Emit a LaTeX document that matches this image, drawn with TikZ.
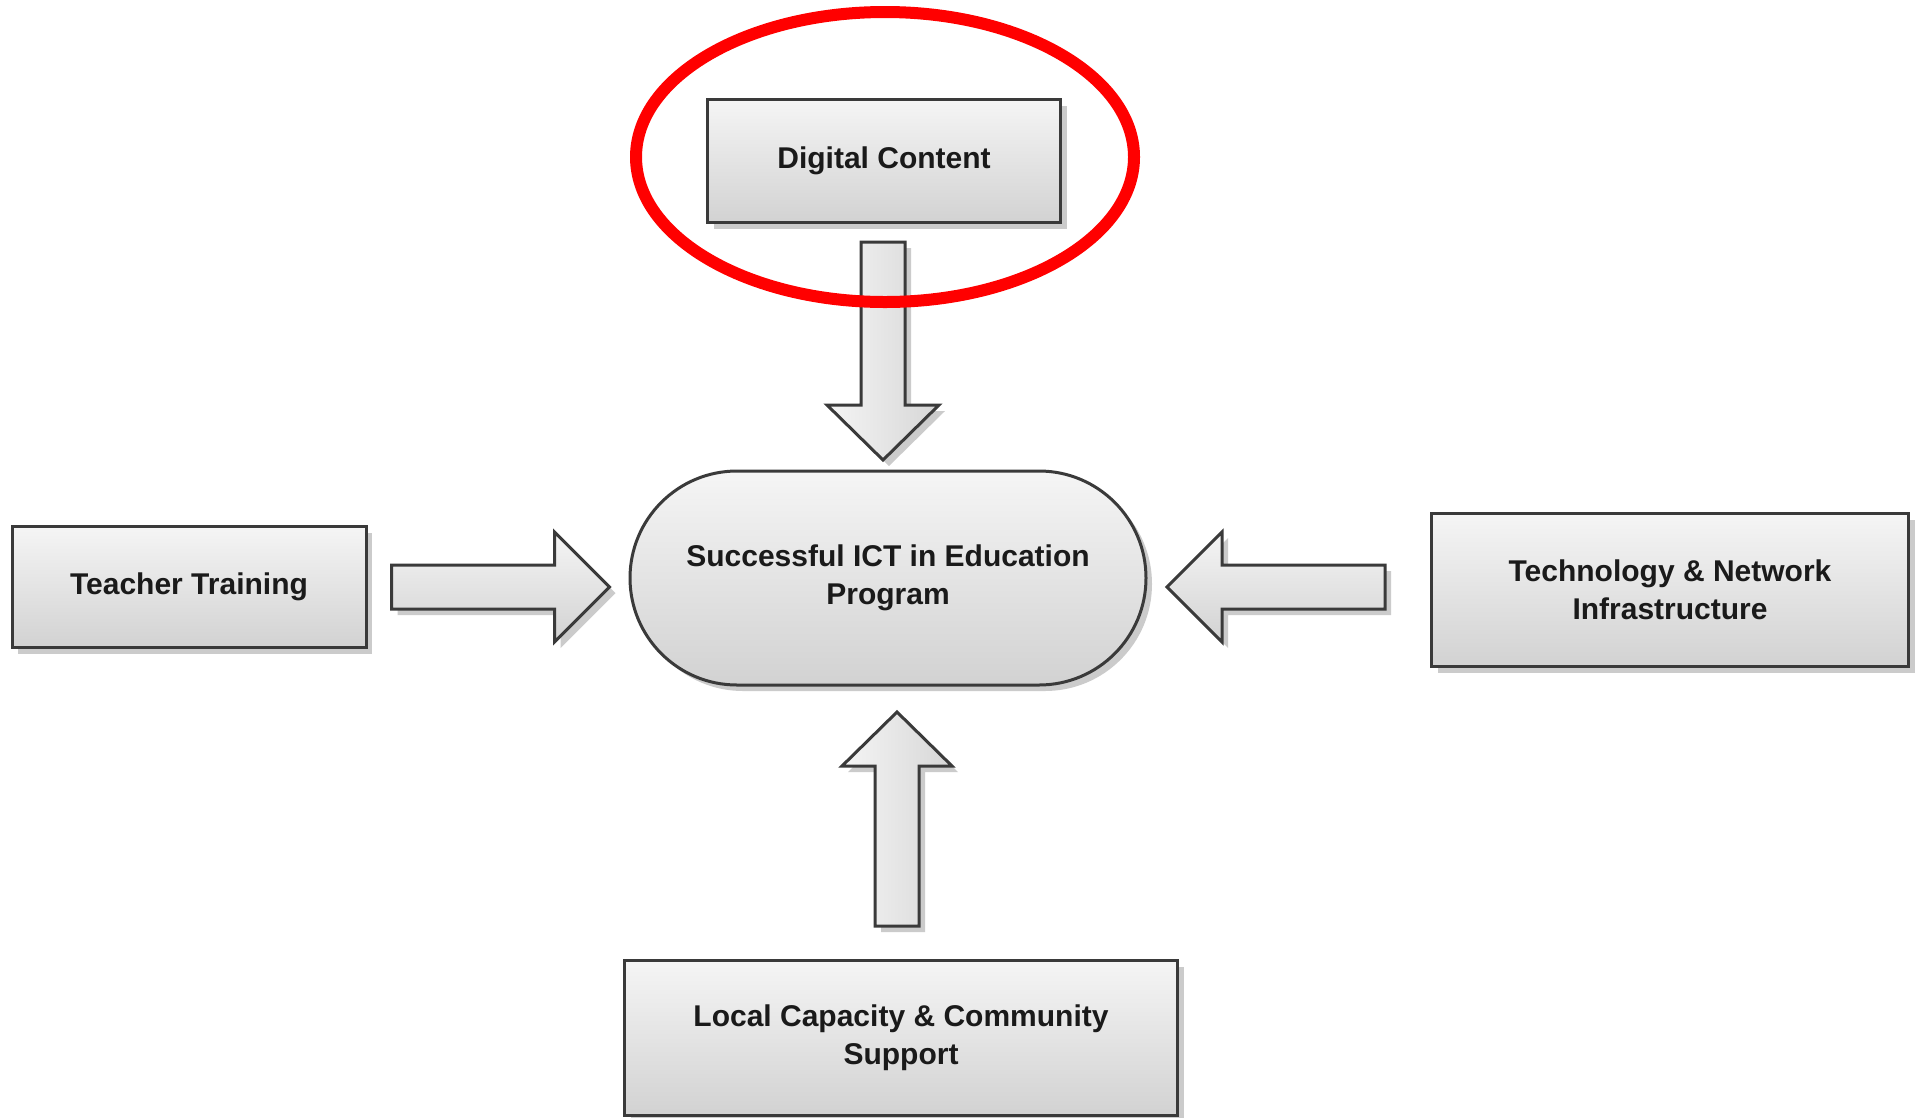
\documentclass[tikz,border=0pt]{standalone}
\usepackage{fontspec}
\setmainfont{Liberation Sans}
\usetikzlibrary{shadows,calc}
\definecolor{edgec}{HTML}{3A3A3A}
\definecolor{topc}{HTML}{F5F5F5}
\definecolor{botc}{HTML}{D2D2D2}
\definecolor{txtc}{HTML}{1A1A1A}
\definecolor{ringred}{HTML}{FF0000}
\tikzset{
  shadowed/.style={drop shadow={shadow xshift=6pt, shadow yshift=-6pt, fill=black!45, opacity=0.45}},
  boxstyle/.style={rectangle, draw=edgec, line width=3pt, top color=topc, bottom color=botc,
    shadowed, font=\fontsize{30}{38}\selectfont\bfseries, text=txtc, align=center, inner sep=0pt},
  harrow/.style={draw=edgec, line width=3pt, top color=topc, bottom color=botc, shadowed, line join=miter},
  varrow/.style={draw=edgec, line width=3pt, left color=topc, right color=botc!90, shadowed, line join=miter},
}
\begin{document}
\begin{tikzpicture}[x=1pt, y=-1pt]
\useasboundingbox[fill=white] (0,0) rectangle (1918,1117);

\node[boxstyle, minimum width=353pt, minimum height=123pt] (dc) at (884,161) {Digital Content};
\node[boxstyle, minimum width=516pt, minimum height=214pt, rounded corners=107pt] (ctr) at (888,578) {Successful ICT in Education\\Program};
\node[boxstyle, minimum width=354pt, minimum height=121pt] (tt) at (189,587) {Teacher Training};
\node[boxstyle, minimum width=477pt, minimum height=153pt] (tech) at (1670,590) {Technology \& Network\\Infrastructure};
\node[boxstyle, minimum width=553pt, minimum height=155pt] (lc) at (901,1038) {Local Capacity \& Community\\Support};

% anchor points of the block arrows, taken from the nodes they join
\coordinate (dtail) at ($(dc.south)+(-1,18)$);
\coordinate (rtail) at ($(tt.east)+(24,0)$);
\coordinate (ltail) at ($(tech.west)+(-45,-3)$);
\coordinate (utail) at ($(lc.north)+(-4,-33)$);

% down arrow (Digital Content -> centre)
\path[varrow, shift={(dtail)}] (-22,0) -- (22,0) -- (22,163) -- (56,163) -- (0,218) -- (-56,163) -- (-22,163) -- cycle;
% right arrow (Teacher Training -> centre)
\path[harrow, shift={(rtail)}] (0,-22) -- (163,-22) -- (163,-55) -- (218,0) -- (163,55) -- (163,22) -- (0,22) -- cycle;
% left arrow (Technology -> centre)
\path[harrow, shift={(ltail)}] (0,-22) -- (-163,-22) -- (-163,-55) -- (-218,0) -- (-163,55) -- (-163,22) -- (0,22) -- cycle;
% up arrow (Local Capacity -> centre)
\path[varrow, shift={(utail)}] (-22,0) -- (22,0) -- (22,-160) -- (55,-160) -- (0,-214) -- (-55,-160) -- (-22,-160) -- cycle;

% red highlight ring
\draw[ringred, line width=12pt] (885,157) ellipse [x radius=249, y radius=145];
\end{tikzpicture}
\end{document}
